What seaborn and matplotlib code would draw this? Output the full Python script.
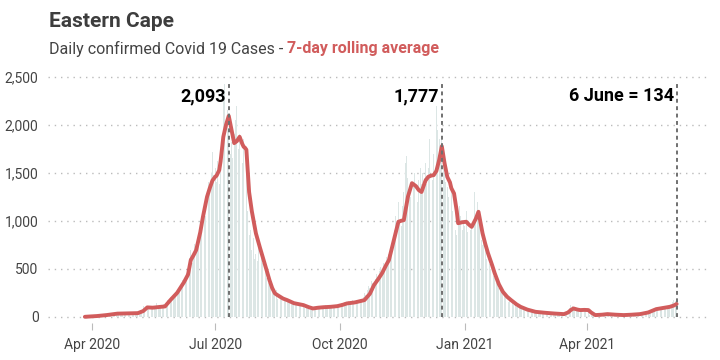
import pandas as pd
import numpy as np
import matplotlib
matplotlib.use("Agg")
import matplotlib.pyplot as plt
import matplotlib.dates as mdates
import matplotlib.ticker as mticker
import seaborn as sns

# daily confirmed cases (from 5 March 2020)
mar20 = [0,0,0,0,0,0,0,0,0,0,0,1,0,1,0,2,1,0,2,3,2,5,4,3,6,8,5]
apr20 = [4,6,8,5,10,12,9,15,18,14,20,22,17,25,30,28,22,35,40,31,38,45,33,30,42,36,28,39,44,37]
may20 = [38,45,30,52,41,36,48,60,110,95,120,88,105,130,92,85,115,100,140,98,112,90,125,138,150,118,176,160,205,190,230]
jun20 = [210,260,240,300,280,350,380,330,420,460,520,610,700,560,640,760,720,690,800,950,1010,1100,1200,1050,1230,1400,1350,1500,1720,1480]
jul20 = [1550,1400,1620,1380,1700,2050,2250,2420,2300,2150,1950,1700,1820,1650,1900,2050,2200,1750,1900,1800,1600,1850,1700,1500,1100,850,900,700,820,600,650]
aug20 = [580,720,500,640,560,480,520,400,350,420,300,330,260,240,280,190,210,230,180,250,200,160,170,190,150,140,160,130,150,120,135]
sep20 = [130,110,125,100,90,95,80,85,70,95,100,80,90,110,105,95,100,115,90,120,110,95,105,118,100,112,125,98,110,120]
oct20 = [125,140,130,150,120,145,160,135,150,170,140,165,180,160,175,190,170,210,250,230,280,320,300,370,350,410,390,450,430,480,520]
nov20 = [500,560,530,620,580,650,700,760,820,900,1050,1100,1200,1000,950,1150,1300,1600,1680,1450,1300,1250,1400,1350,1500,1300,1200,1420,1550,1380]
dec20 = [1500,1450,1600,1380,1550,1850,1650,1420,1700,1550,2200,1950,1850,1750,1850,1600,1500,1400,1350,1250,1500,1300,1100,1200,900,850,1000,1150,1050,900,1000]
jan21 = [950,1100,880,1000,900,950,1150,1300,1050,1200,1000,1100,800,750,850,700,600,650,550,500,480,420,400,350,380,300,320,250,260,220,200]
feb21 = [210,150,195,140,165,120,135,105,118,90,100,80,88,70,78,60,66,55,62,48,55,45,50,40,46,38,42,35]
mar21 = [36,30,34,28,32,26,31,25,28,30,24,29,22,28,25,30,35,60,95,120,110,90,80,75,70,65,72,68,74,70,66]
apr21 = [72,68,20,15,12,18,16,20,22,25,28,30,26,24,32,30,28,25,22,20,18,19,17,20,18,16,19,18,20,22]
may21 = [20,22,24,21,25,28,26,30,27,32,35,38,40,45,50,55,60,58,70,75,80,85,90,82,95,100,88,105,110,98,112]
jun21 = [120,115,150,180,160,140]

cases = mar20 + apr20 + may20 + jun20 + jul20 + aug20 + sep20 + oct20 + nov20 + dec20 + jan21 + feb21 + mar21 + apr21 + may21 + jun21
case_dates = pd.date_range('2020-03-05', periods=len(cases), freq='D')

# 7-day rolling average
avg_dates = ['2020-03-27','2020-04-05','2020-04-12','2020-04-20','2020-04-27','2020-05-05','2020-05-09',
             '2020-05-12','2020-05-16','2020-05-19','2020-05-22','2020-05-25','2020-05-29','2020-06-03',
             '2020-06-08','2020-06-11','2020-06-13','2020-06-15','2020-06-17','2020-06-20','2020-06-22',
             '2020-06-25','2020-06-27','2020-06-29','2020-07-01','2020-07-02','2020-07-04','2020-07-05',
             '2020-07-07','2020-07-09','2020-07-11','2020-07-13','2020-07-15','2020-07-17','2020-07-19',
             '2020-07-21','2020-07-22','2020-07-23','2020-07-24','2020-07-26','2020-07-28','2020-07-31',
             '2020-08-03','2020-08-05','2020-08-08','2020-08-10','2020-08-12','2020-08-14','2020-08-16',
             '2020-08-18','2020-08-20','2020-08-23','2020-08-26','2020-08-28','2020-09-01','2020-09-04',
             '2020-09-08','2020-09-11','2020-09-15','2020-09-19','2020-09-24','2020-09-29','2020-10-03',
             '2020-10-06','2020-10-12','2020-10-19','2020-10-23','2020-10-26','2020-10-29','2020-11-01',
             '2020-11-04','2020-11-06','2020-11-09','2020-11-13','2020-11-15','2020-11-17','2020-11-20',
             '2020-11-23','2020-11-26','2020-11-28','2020-11-30','2020-12-03','2020-12-05','2020-12-07',
             '2020-12-09','2020-12-11','2020-12-13','2020-12-15','2020-12-17','2020-12-19','2020-12-21',
             '2020-12-22','2020-12-24','2020-12-26','2020-12-27','2020-12-30','2021-01-02','2021-01-04',
             '2021-01-06','2021-01-09','2021-01-11','2021-01-14','2021-01-16','2021-01-18','2021-01-21',
             '2021-01-23','2021-01-26','2021-01-29','2021-02-01','2021-02-04','2021-02-08','2021-02-11',
             '2021-02-16','2021-02-22','2021-03-01','2021-03-08','2021-03-15','2021-03-18','2021-03-20',
             '2021-03-22','2021-03-25','2021-03-27','2021-03-30','2021-04-02','2021-04-04','2021-04-07',
             '2021-04-12','2021-04-16','2021-04-22','2021-04-28','2021-05-04','2021-05-10','2021-05-16',
             '2021-05-22','2021-05-27','2021-06-01','2021-06-04','2021-06-06']
avg_vals = [0,8,18,33,35,38,60,
            98,95,100,104,108,174,250,
            360,440,590,640,695,880,1042,
            1250,1340,1420,1458,1470,1528,1620,
            1875,2000,2093,1950,1809,1830,1875,
            1800,1771,1760,1740,1300,1100,870,
            720,625,480,382,300,244,225,
            208,190,174,155,142,130,122,
            100,87,95,100,104,111,125,
            139,150,174,240,330,390,455,
            540,590,760,990,1000,1007,1250,
            1392,1360,1320,1300,1420,1458,1470,
            1476,1520,1632,1777,1600,1458,1400,
            1340,1285,1100,975,985,990,960,
            937,1020,1094,870,760,663,540,
            452,340,260,210,174,130,104,
            75,52,42,34,28,45,70,
            87,75,70,72,70,45,18,
            22,28,22,18,22,28,45,
            80,92,104,118,134]

peak_dates = ['2020-07-11', '2020-12-15', '2021-06-06']
peak_labels = ['2,093', '1,777', '6 June = 134']

tick_dates = ['2020-04-01', '2020-07-01', '2020-10-01', '2021-01-01', '2021-04-01']

sns.set_theme(style='white')
plt.rcParams['font.family'] = ['Roboto', 'DejaVu Sans']

red = '#d15c5c'
fig = plt.figure(figsize=(7.2, 3.6), dpi=100)
ax = fig.add_axes([0.067, 0.104, 0.918, 0.704])

ax.bar(case_dates, cases, width=0.65, color='#dce6e5', linewidth=0, zorder=1)

df = pd.DataFrame({'date': pd.to_datetime(avg_dates), 'avg': avg_vals})
sns.lineplot(data=df, x='date', y='avg', color=red, lw=2.8, ax=ax, zorder=3)

for d, lab in zip(peak_dates, peak_labels):
    d = pd.Timestamp(d)
    ax.vlines(d, 0, 2450, colors='#707070', linestyles=(0, (2, 1.8)), lw=1.4, zorder=4)
    ax.text(d - pd.Timedelta(days=2), 2300, lab, ha='right', va='center',
            fontsize=13, fontweight='bold', color='black')

ax.set_ylim(-60, 2580)
ax.set_xlim(pd.Timestamp('2020-02-29'), pd.Timestamp('2021-06-30'))
ax.set_yticks(range(0, 2501, 500))
ax.yaxis.set_major_formatter(mticker.StrMethodFormatter('{x:,.0f}'))
ax.grid(axis='y', linestyle=(0, (1, 3.5)), color='#bbbbbb', lw=1)
ax.grid(axis='x', visible=False)
ax.set_xticks(pd.to_datetime(tick_dates))
ax.xaxis.set_major_formatter(mdates.DateFormatter('%b %Y'))
ax.set_xlabel('')
ax.set_ylabel('')
sns.despine(ax=ax, left=True, bottom=True)
ax.tick_params(axis='x', length=5, width=0.8, color='#bbbbbb', labelcolor='#444444',
               labelsize=10, pad=6, bottom=True)
ax.tick_params(axis='y', length=0, labelcolor='#444444', labelsize=10, pad=7)

fig.text(0.068, 0.939, 'Eastern Cape', fontsize=15, fontweight='bold', color='#3d3d3d',
         ha='left', va='center')
t1 = fig.text(0.068, 0.864, 'Daily confirmed Covid 19 Cases - ', fontsize=11.5, color='#444444',
              ha='left', va='center')
fig.canvas.draw()
bb = t1.get_window_extent()
fig.text(bb.x1 / fig.bbox.width, 0.864, '7-day rolling average', fontsize=11.5,
         fontweight='bold', color=red, ha='left', va='center')

fig.savefig('out.png', dpi=100)
